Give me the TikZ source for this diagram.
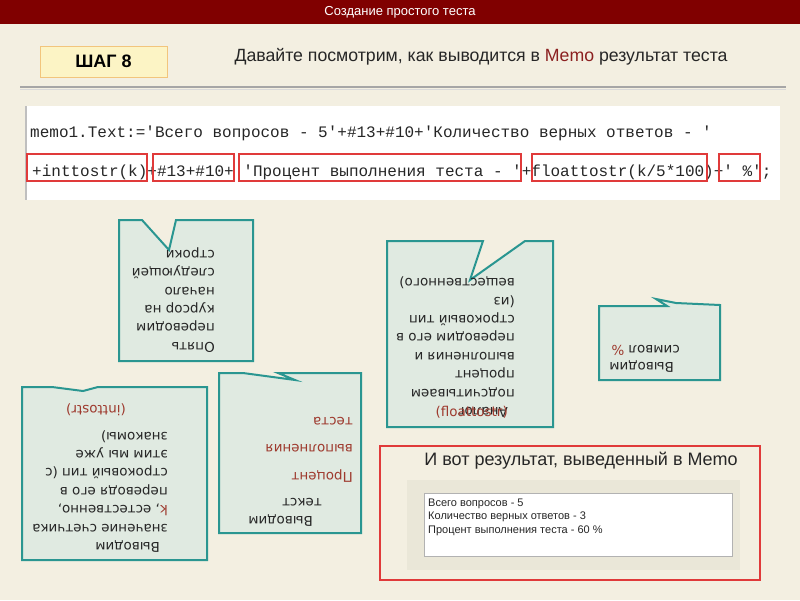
\documentclass[tikz,border=0pt]{standalone}
\usepackage{fontspec}
\setmainfont{Liberation Sans}
\setmonofont{Liberation Mono}
\newfontfamily\notefont{DejaVu Sans}

\definecolor{bgbeige}{HTML}{F3EFE1}
\definecolor{barred}{HTML}{800000}
\definecolor{memored}{HTML}{8B2020}
\definecolor{notered}{HTML}{9E3A2E}
\definecolor{notefill}{HTML}{E0EAE1}
\definecolor{noteline}{HTML}{2A9691}
\definecolor{boxred}{HTML}{E03A3A}
\definecolor{stepfill}{HTML}{FCF4C5}
\definecolor{stepline}{HTML}{F2C57C}
\definecolor{panelgray}{HTML}{EAE7D8}

\tikzset{
  note/.style={draw=noteline, line width=2pt, fill=notefill, line join=miter},
  notetext/.style={font=\notefont\fontsize{13.5}{18.4}\selectfont, rotate=180, align=left, inner sep=0pt, text=black!85},
  codeline/.style={font=\ttfamily\fontsize{16}{18}\selectfont, anchor=west, inner sep=0pt, text=black!85},
  markbox/.style={draw=boxred, line width=1.2pt},
}

\begin{document}
\begin{tikzpicture}[x=1pt, y=-1pt]
\useasboundingbox (0,0) rectangle (800,600);
\fill[bgbeige] (0,0) rectangle (800,600);

% Titelleiste
\fill[barred] (0,0) rectangle (800,24);
\node[text=white, font=\fontsize{13}{15}\selectfont] (title) at (400,12) {Создание простого теста};

% Schritt
\node[draw=stepline, line width=1pt, fill=stepfill, minimum width=127pt, minimum height=31pt, font=\bfseries\fontsize{18}{20}\selectfont] (step8) at (103.5,61.5) {ШАГ 8};
\node[anchor=west, font=\fontsize{17.7}{20}\selectfont, text=black!85] (heading) at (231,57) {Давайте посмотрим, как выводится в \textcolor{memored}{Memo} результат теста};
\draw[line width=2.5pt, gray!70] (20,87) -- (786,87);
\draw[line width=1pt, gray!30] (20,89.5) -- (786,89.5);

% Code
\fill[white] (25,106) rectangle (780,200);
\draw[gray!50, line width=1.5pt] (26,106) -- (26,200);
\node[codeline] (code1) at (30,133) {memo1.Text:='Всего вопросов - 5'+\#13+\#10+'Количество верных ответов - '};
\node[codeline] (code2) at (32,172) {+inttostr(k)+\#13+\#10+ 'Процент выполнения теста - '+floattostr(k/5*100)+' \%';};
\draw[markbox] (27,154) rectangle (147,181);
\draw[markbox] (153,154) rectangle (234,181);
\draw[markbox] (239,154) rectangle (521,181);
\draw[markbox] (532,154) rectangle (707,181);
\draw[markbox] (719,154) rectangle (760,181);

% Sprechblase: Zeilenumbruch
\draw[note] (176,220) -- (253,220) -- (253,361) -- (119,361) -- (119,220) -- (142,220) -- (169,250) -- cycle;
\node[notetext, anchor=north west] (cursornote) at (215,352.5) {Опять\\переводим\\курсор на\\начало\\следующей\\строки};

% Sprechblase: floattostr
\draw[note] (525,241) -- (553,241) -- (553,427) -- (387,427) -- (387,241) -- (483,241) -- (470,280) -- cycle;
\node[notetext, anchor=north west] (floatnote) at (515,417.5) {\hspace*{7pt}\rlap{Аналог}\\подсчитываем\\процент\\выполнения и\\переводим его в\\строковый тип\\(из\\вещественного)};
\node[font=\notefont\fontsize{13.5}{16}\selectfont, text=notered, anchor=east, inner sep=0pt] (floatname) at (508,412) {(floattostr)};

% Sprechblase: Prozentzeichen
\draw[note] (599,306) -- (667,306) -- (656,299) -- (676,303) -- (720,305) -- (720,380) -- (599,380) -- cycle;
\node[notetext, anchor=north west] (percentnote) at (680,372.5) {\hspace*{6pt}Выводим\\[-1.4pt]символ \textcolor{notered}{\%}};

% Sprechblase: Text
\draw[note] (219,373) -- (243,373) -- (295,380) -- (278,373) -- (361,373) -- (361,533) -- (219,533) -- cycle;
\node[notetext, anchor=north west] (textnote) at (322,526.5) {\hspace*{9pt}Выводим\\текст};
\node[notetext, anchor=north west, text=notered] (textname) at (353,482.5) {Процент\\[9.1pt]выполнения\\[9.1pt]теста};

% Sprechblase: Zaehler
\draw[note] (98,387) -- (207,387) -- (207,560) -- (22,560) -- (22,387) -- (52,387) -- (83,391) -- cycle;
\node[notetext, anchor=north west] (counternote) at (168,552.5) {\hspace*{8pt}Выводим\\значение счетчика\\\textcolor{notered}{k}, естественно,\\переводя его в\\строковый тип (с\\этим мы уже\\знакомы)};
\node[notetext, text=notered] (inttostrname) at (96,410) {(inttostr)};

% Ergebnis
\draw[boxred, line width=2pt] (380,446) rectangle (760,580);
\node[font=\fontsize{18}{20}\selectfont, text=black!85] (resulttitle) at (581,461) {И вот результат, выведенный в Memo};
\fill[panelgray] (407,480) rectangle (740,570);
\draw[gray!60, fill=white] (424,493) rectangle (732,556);
\node[anchor=north west, align=left, font=\fontsize{11}{13.5}\selectfont, inner sep=0pt, text=black!85] (memotext) at (428,498.5) {Всего вопросов - 5\\Количество верных ответов - 3\\Процент выполнения теста - 60 \%};

\end{tikzpicture}
\end{document}
